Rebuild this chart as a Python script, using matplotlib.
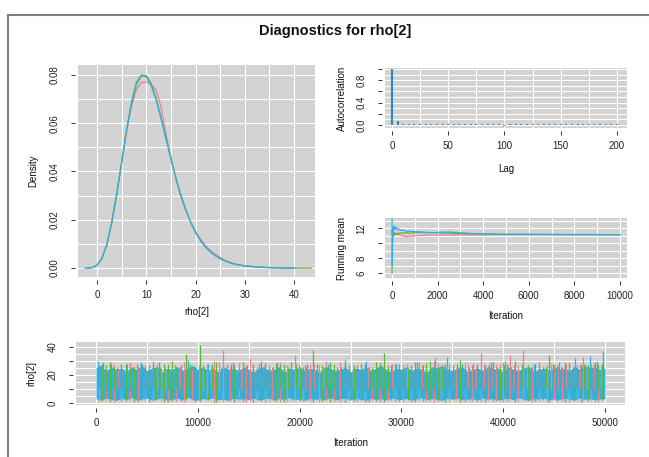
import numpy as np
import matplotlib
matplotlib.use("Agg")
import matplotlib.pyplot as plt
from matplotlib.lines import Line2D

plt.rcParams['font.family'] = ['Liberation Sans', 'DejaVu Sans']

# ---- colours for the three chains
PINK, GREEN, CYAN = '#F27D97', '#5FB534', '#2CB2E8'
ACF_BLUE = '#2A88D4'
BG = '#D3D3D3'

# ---- density of rho[2] for each chain
dens_x = [-2.5, -2, -1, 0, 1, 2, 3, 4, 5, 6, 7, 8, 9, 10, 11, 12, 13, 14, 15, 16,
          17, 18, 19, 20, 21, 22, 23, 24, 25, 26, 27, 28, 29, 30, 32, 34, 36, 38,
          40, 42, 43.5]
dens_pink = [np.nan, 0.0000, 0.0002, 0.0012, 0.0041, 0.0097, 0.0190, 0.0305, 0.0435,
             0.0565, 0.0670, 0.0740, 0.0768, 0.0772, 0.0760, 0.0738, 0.0668, 0.0555,
             0.0460, 0.0372, 0.0298, 0.0238, 0.0190, 0.0152, 0.0120, 0.0094, 0.0074,
             0.0058, 0.0044, 0.0032, 0.0023, 0.0017, 0.0012, 0.0009, 0.0005, 0.0003,
             0.0001, 0.0000, 0.0000, np.nan, np.nan]
dens_green = [np.nan, 0.0000, 0.0002, 0.0011, 0.0040, 0.0096, 0.0188, 0.0305, 0.0435,
              0.0568, 0.0680, 0.0760, 0.0795, 0.0797, 0.0765, 0.0705, 0.0625, 0.0540,
              0.0455, 0.0375, 0.0305, 0.0243, 0.0190, 0.0147, 0.0113, 0.0087, 0.0067,
              0.0052, 0.0040, 0.0030, 0.0023, 0.0017, 0.0013, 0.0010, 0.0006, 0.0003,
              0.0002, 0.0001, 0.0000, 0.0000, 0.0000]
dens_cyan = [0.0000, 0.0000, 0.0002, 0.0012, 0.0042, 0.0098, 0.0192, 0.0310, 0.0440,
             0.0575, 0.0690, 0.0770, 0.0800, 0.0792, 0.0755, 0.0695, 0.0618, 0.0535,
             0.0452, 0.0372, 0.0302, 0.0242, 0.0192, 0.0150, 0.0116, 0.0088, 0.0067,
             0.0051, 0.0039, 0.0029, 0.0022, 0.0016, 0.0012, 0.0009, 0.0005, 0.0002,
             0.0001, 0.0000, 0.0000, np.nan, np.nan]

# ---- autocorrelation (thinned lags)
acf_lag = list(range(0, 201, 5))
acf_val = [1.0, 0.065, 0.025, 0.020, 0.018, 0.012, 0.015, 0.010, 0.018, 0.012,
           0.015, 0.010, 0.014, 0.012, 0.018, 0.015, 0.012, 0.010, 0.015, 0.012,
           -0.010, 0.012, 0.015, 0.010, 0.014, 0.012, 0.015, 0.012, 0.010, 0.015,
           0.018, 0.012, 0.010, 0.014, 0.012, 0.015, 0.010, 0.012, 0.014, 0.010,
           0.012]

# ---- running means
rm_iter = [1, 5, 10, 20, 40, 60, 80, 100, 150, 200, 250, 300, 400, 500, 600, 800,
           1000, 1300, 1600, 2000, 2500, 3000, 3500, 4000, 5000, 6000, 7000, 8000,
           9000, 10000]
rm_pink = [11.0, 11.8, 11.2, 11.5, 11.3, 11.5, 11.2, 11.4, 11.2, 11.3, 11.1, 11.2,
           11.05, 10.95, 10.9, 10.95, 11.0, 11.05, 11.1, 11.1, 11.1, 11.12, 11.12,
           11.13, 11.15, 11.15, 11.15, 11.15, 11.15, 11.15]
rm_green = [6.0, 7.6, 9.5, 10.6, 11.2, 11.0, 11.4, 11.1, 11.3, 11.2, 11.35, 11.3,
            11.4, 11.35, 11.4, 11.35, 11.4, 11.45, 11.4, 11.45, 11.5, 11.4, 11.3,
            11.25, 11.2, 11.18, 11.17, 11.16, 11.15, 11.15]
rm_cyan = [13.8, 9.5, 7.0, 9.8, 11.6, 12.2, 11.8, 12.3, 11.9, 12.1, 11.8, 11.9, 11.7,
           11.8, 11.6, 11.6, 11.55, 11.5, 11.45, 11.4, 11.35, 11.3, 11.28, 11.25,
           11.2, 11.2, 11.18, 11.17, 11.16, 11.15]

# ---- trace: extreme excursions (iteration, high, low) per chain
pink_spikes = [
    (300, 27, 1.2), (1000, 25, 2.0), (1800, 28, 0.8), (2500, 24, 1.5), (3300, 29, 2.2),
    (4100, 26, 0.9), (4800, 27, 1.8), (5600, 30, 1.1), (6400, 25, 2.4), (7100, 28, 1.0),
    (7900, 26, 1.6), (8600, 29, 0.7), (9400, 24, 2.0), (10100, 27, 1.3), (10900, 28, 2.5),
    (11600, 30, 0.9), (12500, 38, 1.7), (13200, 26, 1.2), (14000, 29, 2.1), (14700, 27, 0.8),
    (15100, 32, 1.5), (15800, 25, 2.2), (16600, 28, 1.0), (17300, 26, 1.9), (18100, 29, 0.6),
    (18800, 27, 1.4), (19500, 34, 2.3), (20300, 25, 1.1), (21000, 28, 1.7), (21900, 27, 0.9),
    (22600, 30, 2.0), (23400, 26, 1.3), (24000, 29, 0.7), (24900, 25, 2.4), (25600, 27, 1.5),
    (26400, 28, 1.0), (27100, 26, 1.8), (27900, 29, 0.8), (28700, 27, 2.1), (29400, 25, 1.2),
    (30200, 28, 1.6), (30900, 26, 0.9), (31700, 29, 2.2), (32400, 27, 1.4), (33200, 30, 0.7),
    (33900, 26, 1.9), (34700, 28, 1.1), (35400, 25, 2.3), (36200, 29, 1.0), (36900, 27, 1.7),
    (37800, 35.5, 0.8), (38500, 26, 2.0), (39300, 28, 1.3), (40000, 29, 0.9), (40700, 34, 1.8),
    (41500, 27, 1.2), (41900, 37.8, 2.2), (42800, 26, 0.8), (43500, 29, 1.6), (44300, 27, 1.0),
    (45000, 28, 2.1), (45800, 26, 1.4), (46500, 29, 0.7), (47300, 27, 1.9), (47800, 33, 1.2),
    (48600, 28, 2.0), (49300, 26, 0.9),
]
green_spikes = [
    (600, 28, 1.5), (1400, 29.5, 0.9), (2100, 26, 2.1), (2900, 28, 1.2), (3700, 25, 0.6),
    (4400, 29, 1.8), (5200, 27, 1.0), (5900, 26, 2.3), (6700, 28, 0.8), (7500, 30, 1.6),
    (8300, 27, 1.1), (8800, 35, 2.0), (9700, 26, 0.7), (10200, 41.5, 1.4), (11000, 27, 1.9),
    (11800, 29, 0.9), (12900, 28, 2.2), (13600, 26, 1.0), (14400, 29, 1.7), (15400, 27, 0.6),
    (16200, 30, 1.5), (17000, 26, 2.1), (17700, 28, 1.2), (18500, 27, 0.8), (19200, 29, 1.8),
    (20000, 26, 1.1), (20700, 28, 2.3), (21300, 37.8, 0.9), (22200, 27, 1.6), (23000, 29, 1.0),
    (23700, 26, 2.0), (24500, 31, 0.7), (25300, 27, 1.4), (26000, 28, 2.2), (26800, 26, 1.0),
    (27500, 29, 1.7), (28300, 35.5, 0.8), (29000, 27, 1.9), (29800, 28, 1.2), (30600, 26, 2.1),
    (31300, 29, 0.9), (32100, 27, 1.5), (32800, 30, 2.3), (33600, 26, 1.1), (34300, 28, 0.7),
    (35100, 27, 1.8), (35800, 31, 1.0), (36600, 26, 2.2), (37400, 28, 1.3), (38200, 27, 0.8),
    (39000, 29, 1.6), (39700, 26, 2.0), (40400, 28, 1.1), (41200, 30, 0.6), (42400, 27, 1.9),
    (43100, 28, 1.2), (43900, 26, 2.2), (44500, 34.5, 0.9), (45300, 27, 1.5), (46100, 29, 1.0),
    (46900, 26, 2.1), (47600, 28, 0.8), (48300, 27, 1.7), (49000, 29, 1.2), (49700, 28, 2.0),
]
# smaller excursions just above the dense band (iteration, high)
pink_minor = [
    (650, 26), (1400, 27.5), (2150, 25), (2900, 28), (3700, 26.5), (4450, 27), (5200, 25.5),
    (6000, 28), (6750, 26), (7500, 27), (8250, 25.5), (9000, 28.5), (9750, 26), (10500, 27),
    (11250, 25.5), (12050, 29), (12850, 26), (13600, 27.5), (14350, 25), (15450, 28),
    (16200, 26), (16950, 27), (17700, 25.5), (18450, 28), (19150, 26), (19900, 27.5),
    (20650, 25.5), (21450, 28), (22250, 26), (23000, 27), (23700, 25.5), (24450, 28.5),
    (25250, 26), (26000, 27), (26750, 25.5), (27500, 28), (28300, 26), (29050, 27.5),
    (29800, 25.5), (30550, 28), (31300, 26), (32050, 27), (32800, 25.5), (33550, 28.5),
    (34300, 26), (35050, 27), (35800, 25.5), (36550, 28), (37350, 26), (38150, 27.5),
    (38900, 25.5), (39650, 28), (40350, 26), (41100, 27), (42350, 25.5), (43150, 28),
    (43900, 26), (44650, 27.5), (45400, 25.5), (46150, 28), (46900, 26), (47550, 27),
    (48250, 25.5), (48950, 28), (49650, 26.5),
]
green_minor = [
    (250, 26.5), (1000, 27), (1750, 25.5), (2500, 28), (3300, 26), (4050, 27.5), (4800, 25.5),
    (5550, 28), (6300, 26), (7100, 27), (7900, 25.5), (9250, 28), (10600, 26), (11400, 27.5),
    (12300, 25.5), (13250, 28), (14000, 26), (14800, 27), (15800, 25.5), (16600, 28.5),
    (17350, 26), (18100, 27), (18850, 25.5), (19600, 28), (20350, 26), (21750, 27.5),
    (22600, 25.5), (23350, 28), (24100, 26), (24900, 27), (25650, 25.5), (26400, 28),
    (27150, 26), (27900, 27.5), (28650, 25.5), (29400, 28), (30200, 26), (30950, 27),
    (31700, 25.5), (32450, 28.5), (33200, 26), (33950, 27), (34700, 25.5), (35450, 28),
    (36200, 26), (37000, 27.5), (37800, 25.5), (38600, 28), (39350, 26), (40050, 27),
    (40800, 25.5), (41800, 28), (42750, 26), (43500, 27), (44200, 25.5), (44900, 28),
    (45700, 26), (46500, 27.5), (47250, 25.5), (47950, 28), (48650, 26), (49350, 27),
]
cyan_spikes = [
    (200, 30), (700, 29), (1500, 28), (3000, 27.5), (4500, 28), (6200, 29), (7800, 27),
    (9000, 30.5), (11000, 28), (13500, 29), (16000, 28), (17800, 29), (20500, 27),
    (22800, 28), (24500, 29), (26500, 30), (29500, 28), (31500, 29), (33300, 32),
    (34500, 32.5), (36000, 28), (38800, 29), (40200, 30), (43000, 28), (45500, 29),
    (47100, 32), (48500, 33.5), (49200, 30), (49850, 37),
]
# envelope of the dense cyan chain, every 500 iterations
cyan_band_hi = [25, 27, 23, 26, 24, 25, 22, 26, 24, 27,
                23, 25, 26, 22, 25, 24, 26, 23, 25, 27,
                24, 26, 23, 25, 22, 26, 24, 25, 23, 26,
                24, 22, 25, 26, 23, 24, 26, 22, 25, 24,
                26, 23, 25, 24, 22, 26, 25, 23, 24, 26,
                22, 25, 24, 26, 23, 25, 27, 24, 22, 25,
                24, 26, 23, 25, 24, 22, 26, 25, 27, 24,
                23, 25, 26, 22, 24, 25, 23, 26, 24, 25,
                22, 26, 24, 23, 25, 26, 22, 24, 25, 23,
                26, 24, 25, 23, 26, 24, 27, 25, 26, 24,
                25]
cyan_band_lo = [3.0, 2.2, 3.5, 2.6, 1.8, 3.2, 2.4, 3.8, 2.0, 2.9,
                3.4, 2.1, 2.8, 3.6, 1.9, 2.7, 3.3, 2.3, 3.9, 2.5,
                2.0, 3.1, 2.6, 3.7, 2.2, 2.9, 1.8, 3.4, 2.7, 3.0,
                2.4, 3.5, 2.1, 2.8, 3.6, 2.0, 3.2, 2.5, 3.8, 2.3,
                2.9, 1.9, 3.3, 2.6, 3.0, 2.2, 3.7, 2.4, 2.8, 3.5,
                2.1, 3.1, 2.7, 1.8, 3.4, 2.5, 3.0, 2.2, 3.6, 2.8,
                2.3, 3.2, 2.0, 2.9, 3.7, 2.4, 3.1, 2.6, 1.9, 3.3,
                2.7, 3.5, 2.2, 2.8, 3.0, 2.1, 3.6, 2.5, 3.2, 2.0,
                2.9, 3.4, 2.3, 3.8, 2.6, 1.8, 3.1, 2.7, 3.5, 2.2,
                3.0, 2.4, 3.3, 2.8, 2.0, 3.6, 2.5, 3.1, 2.3, 2.9,
                3.0]

W, H = 649, 457
fig = plt.figure(figsize=(W / 100, H / 100), dpi=100)


def box(l, t, r, b):
    return [l / W, 1 - b / H, (r - l) / W, (b - t) / H]


def panel(ax, xlim, ylim, xticks, yticks, xgrid, ygrid, xlabels=None, ylabels=None):
    ax.set_facecolor(BG)
    ax.set_xlim(xlim)
    ax.set_ylim(ylim)
    for v in xgrid:
        ax.axvline(v, color='white', lw=0.8, zorder=0.5)
    for v in ygrid:
        ax.axhline(v, color='white', lw=0.8, zorder=0.5)
    ax.set_xticks(xticks)
    ax.set_yticks(yticks)
    if xlabels is not None:
        ax.set_xticklabels(xlabels)
    if ylabels is not None:
        ax.set_yticklabels(ylabels)
    for s in ax.spines.values():
        s.set_color('none')
    ax.spines['left'].set_position(('outward', 2.2))
    ax.spines['bottom'].set_position(('outward', 2.2))
    ax.tick_params(direction='out', length=2.9, width=0.7, color='#333333',
                   labelsize=7, labelcolor='#222222')
    ax.tick_params(axis='x', pad=4)
    ax.tick_params(axis='y', pad=8.2, labelrotation=90)
    for lab in ax.get_yticklabels():
        lab.set_va('center')


def label(x, y, s, rot=0, **kw):
    fig.text(x / W, 1 - y / H, s, rotation=rot, ha='center', va='center',
             fontsize=7, color='#111111', **kw)


# ---- density panel
ax1 = fig.add_axes(box(78, 65, 315, 277))
panel(ax1, (-3.86, 44.26), (-0.0037, 0.0841), [0, 10, 20, 30, 40],
      [0, 0.02, 0.04, 0.06, 0.08], np.arange(0, 41, 5), np.arange(0, 0.081, 0.01),
      ylabels=['0.00', '0.02', '0.04', '0.06', '0.08'])
for yv, col in [(dens_pink, PINK), (dens_green, GREEN), (dens_cyan, CYAN)]:
    ax1.plot(dens_x, yv, color=col, lw=0.9)
label(196.5, 312, 'rho[2]')
label(33, 171, 'Density', rot=90)

# ---- autocorrelation panel
ax2 = fig.add_axes(box(385, 68, 627, 128))
panel(ax2, (-6.2, 208.9), (-0.054, 1.018), [0, 50, 100, 150, 200],
      [0, 0.2, 0.4, 0.6, 0.8, 1.0], np.arange(0, 201, 25), np.arange(0, 1.01, 0.1),
      ylabels=['0.0', '', '0.4', '', '0.8', ''])
ax2.vlines(acf_lag, 0, acf_val, color=ACF_BLUE, lw=1.5)
label(506, 169, 'Lag')
label(342, 98, 'Autocorrelation', rot=90)

# ---- running mean panel
ax3 = fig.add_axes(box(385, 218, 627, 278))
panel(ax3, (-311, 10311), (5.37, 13.37), np.arange(0, 10001, 2000), [6, 8, 10, 12],
      np.arange(0, 10001, 1000), np.arange(6, 14, 1),
      ylabels=['6', '8', '', '12'])
for yv, col in [(rm_pink, PINK), (rm_green, GREEN), (rm_cyan, CYAN)]:
    ax3.plot(rm_iter, yv, color=col, lw=0.9)
label(506, 316, 'Iteration')
label(342, 248, 'Running mean', rot=90)

# ---- trace panel
ax4 = fig.add_axes(box(76, 342, 625, 405))
panel(ax4, (-1969, 51968), (-1.43, 43.57), np.arange(0, 50001, 10000),
      [0, 10, 20, 30, 40], np.arange(0, 50001, 5000), np.arange(0, 41, 5),
      ylabels=['0', '', '20', '', '40'])
for spikes, minor, col in [(pink_spikes, pink_minor, PINK),
                           (green_spikes, green_minor, GREEN)]:
    it, hi, lo = zip(*spikes)
    ax4.vlines(it, lo, hi, color=col, lw=0.9)
    it, hi = zip(*minor)
    ax4.vlines(it, 10, hi, color=col, lw=0.9)
band_x = np.linspace(0, 50000, len(cyan_band_hi))
ax4.fill_between(band_x, cyan_band_lo, cyan_band_hi, color=CYAN, lw=0)
it, hi = zip(*cyan_spikes)
ax4.vlines(it, 10, hi, color=CYAN, lw=0.9)
label(350.5, 443, 'Iteration')
label(31, 373.5, 'rho[2]', rot=90)

# ---- title and outer frame
fig.text(335 / W, 1 - 31 / H, 'Diagnostics for rho[2]', ha='center', va='center',
         fontsize=10.5, fontweight='bold', color='#111111')
fig.add_artist(Line2D([8 / W, 8 / W], [0, 1 - 15 / H], color='#808080', lw=1.5))
fig.add_artist(Line2D([8 / W, 1], [1 - 15 / H, 1 - 15 / H], color='#808080', lw=1.5))

fig.savefig('out.png', dpi=100)
